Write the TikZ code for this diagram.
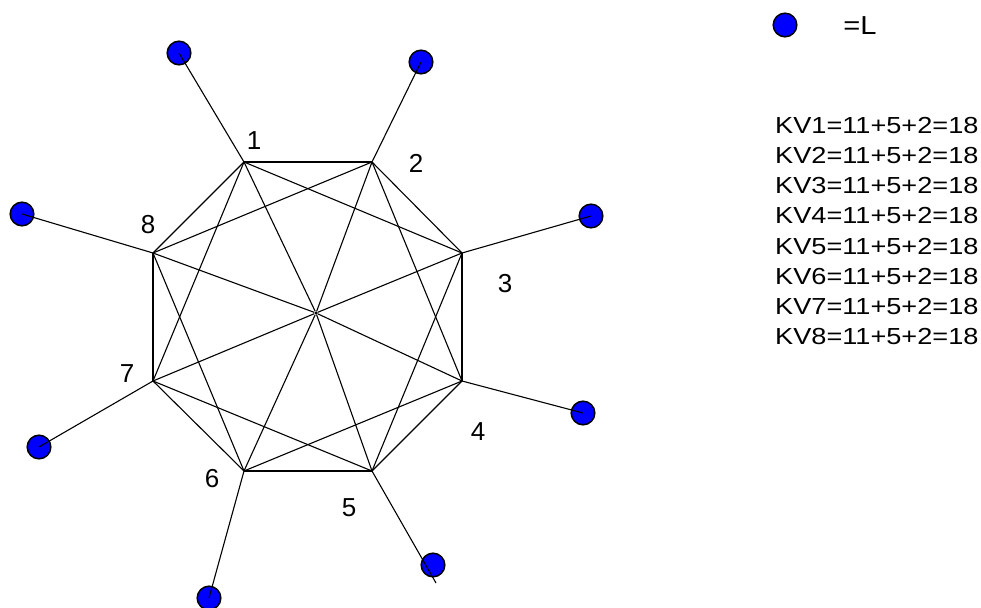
\documentclass[tikz,border=0pt]{standalone}
\usepackage{fontspec}
\setmainfont{Liberation Sans}
\definecolor{leafblue}{RGB}{0,0,255}
\begin{document}
\begin{tikzpicture}[x=1pt,y=-1pt,
  edge/.style={draw=black,line width=1.1pt},
  leaf/.style={circle,draw=black,line width=1.5pt,fill=leafblue,minimum size=23.6pt,inner sep=0pt},
  hubdot/.style={circle,fill=black,minimum size=3.5pt,inner sep=0pt},
  numlabel/.style={font=\fontsize{26}{26}\selectfont},
  kvline/.style={anchor=west,font=\fontsize{23.2}{23.2}\selectfont,inner sep=0pt}]
\useasboundingbox (0,0) rectangle (981,607);
% octagon corners
\coordinate (v1) at (244,162);
\coordinate (v2) at (372,162);
\coordinate (v3) at (462,253);
\coordinate (v4) at (462,381);
\coordinate (v5) at (372,471);
\coordinate (v6) at (244,471);
\coordinate (v7) at (153,381);
\coordinate (v8) at (153,253);
\node[hubdot] (hub) at (316,313) {};
% outer L vertices
\node[leaf] (l1) at (179,53) {};
\node[leaf] (l2) at (421,62) {};
\node[leaf] (l3) at (591,216) {};
\node[leaf] (l4) at (583,413) {};
\node[leaf] (l5) at (433,565) {};
\node[leaf] (l6) at (209,598) {};
\node[leaf] (l7) at (39,447) {};
\node[leaf] (l8) at (22,214) {};
\coordinate (t5) at (436,583);
% pendant edges
\foreach \i in {1,2,3,4,6,7,8} \draw[edge] (v\i) -- (l\i.center);
\draw[edge] (v5) -- (t5);
% octagon sides, second neighbours and spokes
\foreach \i [evaluate=\i as \j using {int(mod(\i,8)+1)},
             evaluate=\i as \k using {int(mod(\i+1,8)+1)}] in {1,...,8} {
  \draw[edge] (v\i) -- (v\j);
  \draw[edge] (v\i) -- (v\k);
  \draw[edge] (v\i) -- (hub);
}
% vertex numbers
\node[numlabel] (n1) at (254,141) {1};
\node[numlabel] (n2) at (416,163) {2};
\node[numlabel] (n3) at (505,284) {3};
\node[numlabel] (n4) at (478,432) {4};
\node[numlabel] (n5) at (349,508) {5};
\node[numlabel] (n6) at (212,479) {6};
\node[numlabel] (n7) at (127,374) {7};
\node[numlabel] (n8) at (148,225) {8};
% legend
\node[leaf] (key) at (785,25) {};
\node[numlabel] (keytext) at (860,26) {\scalebox{1.12}[1]{=L}};
% degree sums
\foreach \i in {1,...,8}
  \node[kvline] (kv\i) at (775,{125.3+30.2*(\i-1)}) {\scalebox{1.17}[1]{KV\i=11+5+2=18}};
\end{tikzpicture}
\end{document}
